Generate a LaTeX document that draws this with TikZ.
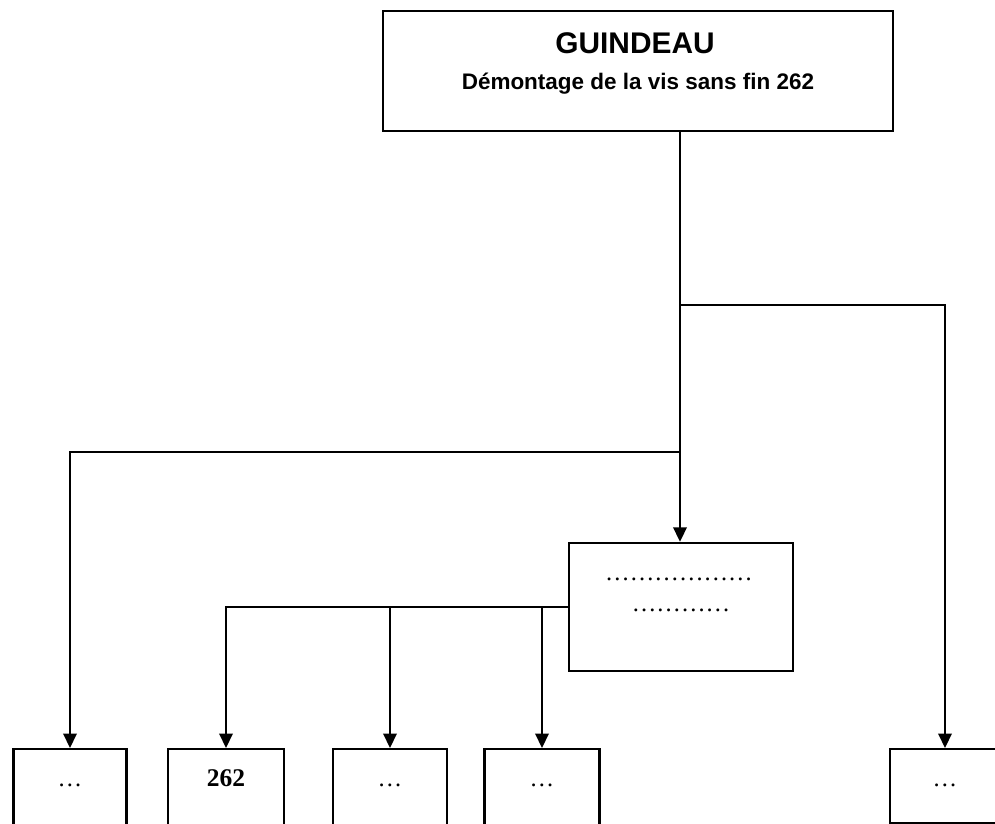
\documentclass[tikz,border=0pt]{standalone}
\usepackage{fontspec}
\setmainfont{Liberation Serif}
\newfontfamily\arial{Liberation Sans}
\usetikzlibrary{arrows.meta}
\tikzset{
  box/.style={draw, line width=1.4pt, rectangle, inner sep=0pt},
  botbox/.style={box, anchor=north, inner ysep=0pt, text height=0.74cm, minimum width=#1},
  conn/.style={line width=1.2pt},
  arr/.style={conn, -{Triangle[length=0.29cm, width=0.27cm]}},
  dotsfont/.style={font=\fontsize{14}{16}\selectfont}
}
\begin{document}
\begin{tikzpicture}[x=0.02cm, y=-0.02cm]
\clip (0,0) rectangle (995,824);
\fill[white] (0,0) rectangle (995,824);
% top box
\node[box, minimum width=10.2cm, minimum height=2.4cm] (top) at (638,71) {};
\node[anchor=base, inner sep=0pt, font=\arial\bfseries\fontsize{17}{20}\selectfont] (title) at (635,54) {GUINDEAU};
\node[anchor=base, inner sep=0pt, font=\arial\bfseries\fontsize{12.8}{15}\selectfont] (subtitle) at (638,90) {Démontage de la vis sans fin 262};
% middle box
\node[box, minimum width=4.48cm, minimum height=2.56cm] (mid) at (681,607) {};
\node[anchor=base, inner sep=0pt, dotsfont] (mid1) at (679,581) {………………};
\node[anchor=base, inner sep=0pt, dotsfont] (mid2) at (681,611) {…………};
% bottom boxes
\node[botbox=2.26cm, text depth=0.9cm, dotsfont] (b1) at (70,748) {…};
\node[botbox=2.32cm, text depth=0.9cm, font=\bfseries\fontsize{14.5}{16}\selectfont] (b2) at (226,748) {262};
\node[botbox=2.28cm, text depth=0.9cm, dotsfont] (b3) at (390,748) {…};
\node[botbox=2.30cm, text depth=0.9cm, dotsfont] (b4) at (542,748) {…};
\node[botbox=2.20cm, text depth=0.74cm, dotsfont] (b5) at (945,748) {…};
% junctions
\coordinate (j1) at (680,305);
\coordinate (j2) at (680,452);
% connectors
\draw[arr] (j1 |- top.south) -- (j1 |- mid.north);
\draw[arr] (j1) -| (b5.north);
\draw[arr] (j2) -| (b1.north);
\draw[arr] (mid.west) -| (b2.north);
\draw[arr] (mid.west -| b3.north) -- (b3.north);
\draw[arr] (mid.west -| b4.north) -- (b4.north);
\end{tikzpicture}
\end{document}
